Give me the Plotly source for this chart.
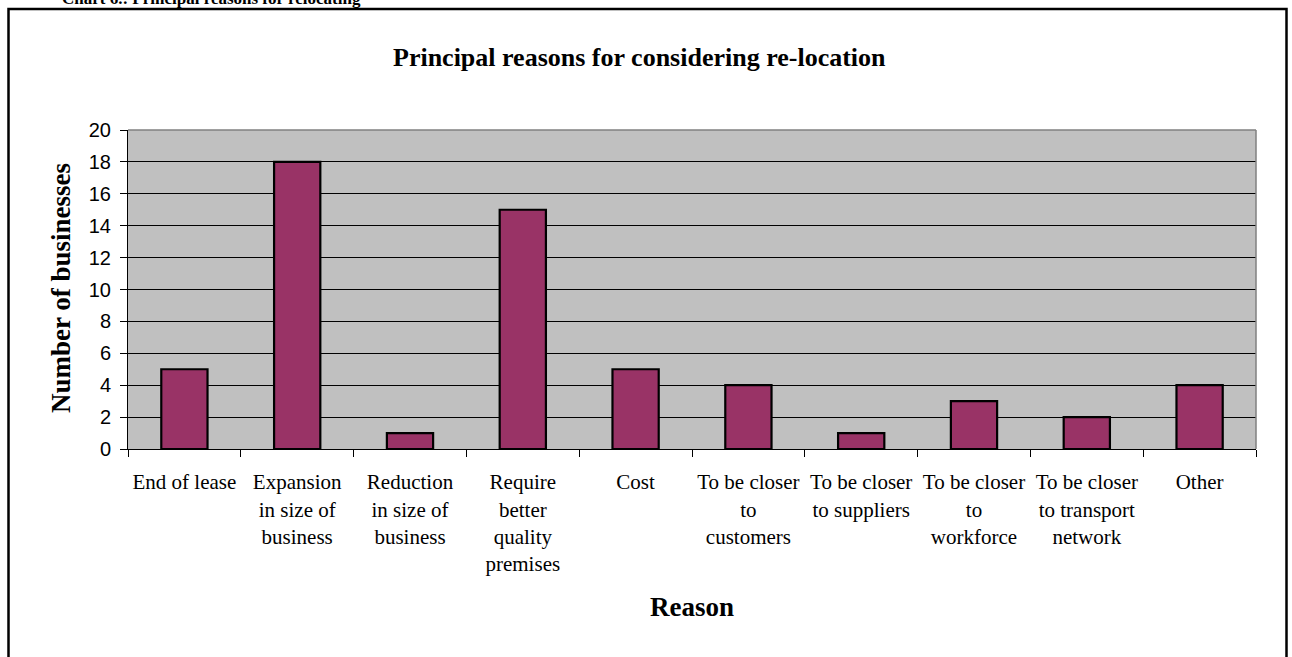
import plotly.graph_objects as go

categories = [
    "End of lease",
    "Expansion<br>in size of<br>business",
    "Reduction<br>in size of<br>business",
    "Require<br>better<br>quality<br>premises",
    "Cost",
    "To be closer<br>to<br>customers",
    "To be closer<br>to suppliers",
    "To be closer<br>to<br>workforce",
    "To be closer<br>to transport<br>network",
    "Other",
]
values = [5, 18, 1, 15, 5, 4, 1, 3, 2, 4]
y_ticks = list(range(0, 21, 2))

SERIF = "Liberation Serif, Times New Roman, serif"
SANS = "Liberation Sans, Arial, sans-serif"

W, H = 1292, 657
L, R, T, B = 128, 36, 130, 208
pw, ph = W - L - R, H - T - B

def px(x):
    return (x - L) / pw

def py(y):
    return (H - B - y) / ph

fig = go.Figure(
    go.Bar(
        x=categories,
        y=values,
        marker=dict(color="#993366", line=dict(color="black", width=2.2)),
        width=0.41,
    )
)

fig.update_layout(
    width=W,
    height=H,
    margin=dict(l=L, r=R, t=T, b=B, autoexpand=False),
    paper_bgcolor="white",
    plot_bgcolor="#C0C0C0",
    showlegend=False,
    xaxis=dict(
        type="category",
        tickson="boundaries",
        ticks="outside",
        ticklen=7,
        tickcolor="black",
        showline=True,
        linecolor="black",
        linewidth=1,
        showgrid=False,
        tickfont=dict(family=SERIF, size=21, color="black"),
        ticklabelstandoff=14,
        automargin=False,
        range=[-0.5, 9.5],
    ),
    yaxis=dict(
        range=[0, 20],
        tickvals=y_ticks,
        ticks="outside",
        ticklen=7,
        tickcolor="black",
        showline=True,
        linecolor="black",
        linewidth=1,
        showgrid=True,
        gridcolor="black",
        gridwidth=1,
        zeroline=False,
        tickfont=dict(family=SANS, size=20, color="black"),
        ticklabelstandoff=5,
        automargin=False,
    ),
    annotations=[
        dict(text="<b>Chart 6.: Principal reasons for relocating</b>", xref="paper", yref="paper",
             x=px(60), y=py(10), xanchor="left", yanchor="bottom", showarrow=False,
             font=dict(family=SERIF, size=17, color="black")),
        dict(text="<b>Principal reasons for considering re-location</b>", xref="paper", yref="paper",
             x=px(639), y=py(57), xanchor="center", yanchor="middle", showarrow=False,
             font=dict(family=SERIF, size=26, color="black")),
        dict(text="<b>Number of businesses</b>", xref="paper", yref="paper",
             x=px(61), y=py(288), xanchor="center", yanchor="middle", showarrow=False,
             textangle=-90, font=dict(family=SERIF, size=27, color="black")),
        dict(text="<b>Reason</b>", xref="paper", yref="paper",
             x=px(692), y=py(607), xanchor="center", yanchor="middle", showarrow=False,
             font=dict(family=SERIF, size=27, color="black")),
    ],
    shapes=[
        # outer box
        dict(type="rect", xref="paper", yref="paper",
             x0=px(8.5), x1=px(1286.5), y0=py(700), y1=py(9),
             line=dict(color="black", width=2.5), fillcolor="rgba(0,0,0,0)", layer="above"),
        # grey plot border top and right
        dict(type="line", xref="paper", yref="paper", x0=0, x1=1, y0=1, y1=1,
             line=dict(color="#808080", width=1.5), layer="above"),
        dict(type="line", xref="paper", yref="paper", x0=1, x1=1, y0=0, y1=1,
             line=dict(color="#808080", width=1.5), layer="above"),
    ],
)

fig.write_html("out.html")
